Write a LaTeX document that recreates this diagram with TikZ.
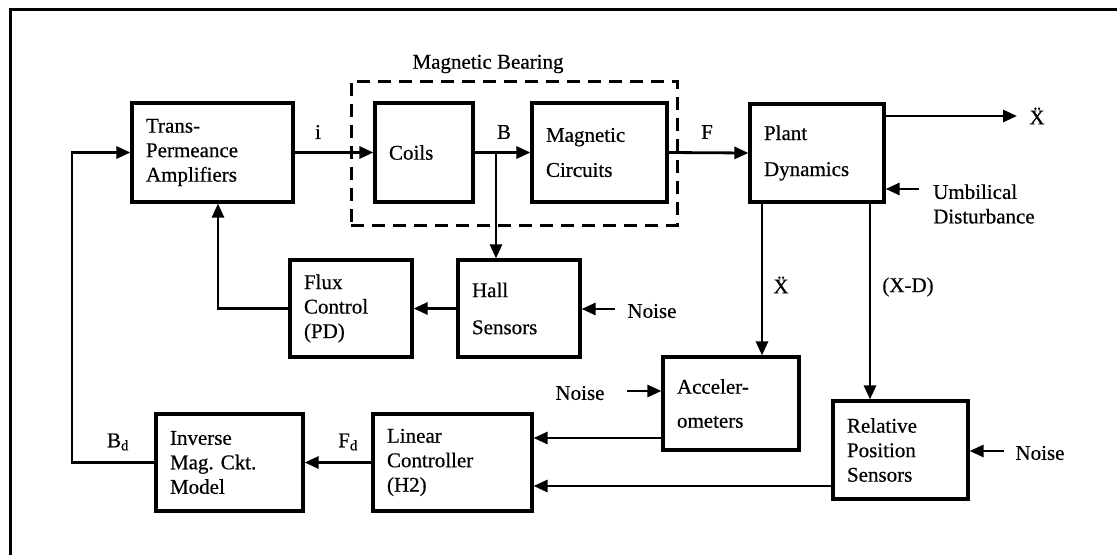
\documentclass[tikz,border=0pt]{standalone}
\usepackage{fontspec}
\setmainfont{Liberation Serif}[BoldFont={Liberation Serif},BoldFeatures={FakeBold=0.5}]
\usetikzlibrary{arrows.meta}
\begin{document}
\frenchspacing
\begin{tikzpicture}[x=1pt,y=-1pt,
  every node/.style={font=\fontsize{21}{24.5}\selectfont\bfseries},
  blk/.style={draw, line width=3.2pt, inner xsep=14pt, inner ysep=0pt, align=left},
  grp/.style={draw, line width=3pt, dash pattern=on 13pt off 8pt, inner sep=0pt},
  arr/.style={line width=2.8pt, -{Triangle[length=14pt,width=12pt]}},
  frame/.style={line width=3pt},
  lbl/.style={inner sep=0pt}]
\useasboundingbox (0,0) rectangle (1117,555);
% frame
\coordinate (fa) at (10,555);
\coordinate (fb) at (10,9.5);
\coordinate (fc) at (1117,9.5);
\draw[frame] (fa) -- (fb) -- (fc);

% blocks
\node[blk, text width=133pt, minimum height=99pt] (tpa) at (212.5,152.5) {Trans-\\Permeance\\Amplifiers};
\node[blk, text width=70pt, minimum height=99pt] (coils) at (424,152.5) {Coils};
\node[blk, text width=107pt, minimum height=99pt] (mc) at (599.5,152.5) {Magnetic\\[10.5pt]Circuits};
\node[blk, text width=106pt, minimum height=98pt] (plant) at (817,153) {Plant\\[11.5pt]Dynamics};
\node[blk, text width=94pt, minimum height=97pt] (flux) at (351,308.5) {Flux\\Control\\(PD)};
\node[blk, text width=94pt, minimum height=97pt] (hall) at (519,308.5) {Hall\\[12.5pt]Sensors};
\node[blk, text width=108pt, minimum height=93pt] (accel) at (731,403.5) {Acceler-\\[9.5pt]ometers};
\node[blk, text width=107pt, minimum height=98pt] (relpos) at (900.5,450) {Relative\\Position\\Sensors};
\node[blk, text width=131pt, minimum height=97pt] (lin) at (452.5,462.5) {Linear\\Controller\\(H2)};
\node[blk, text width=119pt, minimum height=97pt] (inv) at (229.5,462.5) {Inverse\\Mag. Ckt.\\Model};

% magnetic bearing group
\node[grp, minimum width=326pt, minimum height=144pt] (mb) at (514,153) {};
\node[lbl] (mbl) at (488,64) {Magnetic Bearing};

% helper coordinates
\coordinate (bj) at (496,152.5);
\coordinate (xout) at (1017,116);
\coordinate (umb) at (919,189);
\coordinate (ax) at (762,0);
\coordinate (rx) at (870,0);
\coordinate (hn) at (615,309);
\coordinate (fx) at (218,0);
\coordinate (an) at (627,391);
\coordinate (al) at (0,438);
\coordinate (rl) at (0,486);
\coordinate (rn) at (1004,451);
\coordinate (fbk) at (72,300);

% connectors
\draw[arr] (tpa.east) -- (coils.west);
\draw[arr] (coils.east) -- (mc.west);
\draw[arr] (bj) -- (bj |- hall.north);
\draw[arr] (mc.east) -- (plant.west);
\draw[arr] (plant.east |- xout) -- (xout);
\draw[arr] (umb) -- (plant.east |- umb);
\draw[arr] (plant.south -| ax) -- (accel.north -| ax);
\draw[arr] (plant.south -| rx) -- (relpos.north -| rx);
\draw[arr] (hall.west) -- (flux.east);
\draw[arr] (hn) -- (hall.east |- hn);
\draw[arr] (flux.west) -| (tpa.south -| fx);
\draw[arr] (an) -- (accel.west |- an);
\draw[arr] (accel.west |- al) -- (lin.east |- al);
\draw[arr] (relpos.west |- rl) -- (lin.east |- rl);
\draw[arr] (rn) -- (relpos.east |- rn);
\draw[arr] (lin.west) -- (inv.east);
\draw[arr] (inv.west) -| (fbk) |- (tpa.west);

% labels
\node[lbl] (li) at (318,132) {i};
\node[lbl] (lb) at (504,132) {B};
\node[lbl] (lf) at (707,132) {F};
\node[lbl] (lx) at (1037,116) {\"X};
\node[lbl, anchor=west, align=left] (lu) at (933,204) {Umbilical\\Disturbance};
\node[lbl] (lxa) at (781,285) {\"X};
\node[lbl] (lxd) at (908,287) {(X-D)};
\node[lbl] (n1) at (652,311) {Noise};
\node[lbl] (n2) at (580,393) {Noise};
\node[lbl] (n3) at (1040,453) {Noise};
\node[lbl] (lbd) at (118,442) {B\textsubscript{d}};
\node[lbl] (lfd) at (348,442) {F\textsubscript{d}};
\end{tikzpicture}
\end{document}
